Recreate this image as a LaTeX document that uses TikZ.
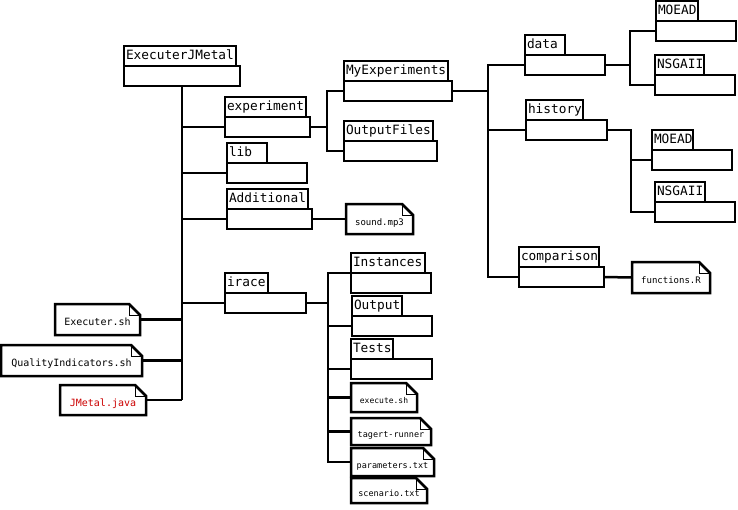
\documentclass[tikz,border=0pt]{standalone}
\usepackage{fontspec}
\setmonofont{DejaVu Sans Mono}
\usepackage{tikz}
\usetikzlibrary{calc}

% folder: tab with the name on top of an empty body
\newcommand{\dirbox}[6]{%
  \node[dirtab, text width=#5] (#1T) at (#2,#3) {#4};
  \node[dirbody, minimum width=#6] (#1) at (#1T.south west) {};
}
% file: sheet with a folded corner
\newcommand{\dogear}[1]{%
  \draw (#1.south west) -- (#1.north west) -- ([xshift=-11pt]#1.north east)
    -- ([yshift=-11pt]#1.north east) -- (#1.south east) -- cycle;
  \draw[line width=0.9pt] ([xshift=-11pt]#1.north east) -- ([xshift=-11pt,yshift=-11pt]#1.north east)
    -- ([yshift=-11pt]#1.north east);
}

\begin{document}
\begin{tikzpicture}[x=1pt, y=-1pt, line width=2.5pt,
  dirtab/.style={draw, anchor=north west, outer sep=0pt, inner sep=2pt, minimum height=20pt,
    text height=9.5pt, text depth=2.5pt, font=\ttfamily\fontsize{12.8}{14}\selectfont},
  dirbody/.style={draw, anchor=north west, outer sep=0pt, inner sep=0pt, minimum height=20pt},
  file/.style={anchor=north west, outer sep=0pt, inner sep=0pt, text height=12pt, text depth=0pt,
    font=\ttfamily\fontsize{9}{10}\selectfont},
  bigfile/.style={file, font=\ttfamily\fontsize{10}{11}\selectfont}]

\fill[white] (0,0) rectangle (738,509);
\useasboundingbox (0,0) rectangle (738,509);

% Folders
\dirbox{exec}{124}{46}{ExecuterJMetal}{108pt}{116pt}
\dirbox{expr}{225}{97}{experiment}{77pt}{85pt}
\dirbox{lib}{227}{143}{lib}{36pt}{80pt}
\dirbox{add}{227}{189}{Additional}{77pt}{85pt}
\dirbox{irace}{225}{273}{irace}{39pt}{81pt}

\dirbox{myexp}{344}{61}{MyExperiments}{100pt}{108pt}
\dirbox{outf}{344}{121}{OutputFiles}{85pt}{93pt}

\dirbox{data}{525}{35}{data}{36pt}{80pt}
\dirbox{hist}{526}{100}{history}{53pt}{81pt}
\dirbox{comp}{519}{247}{comparison}{76pt}{85pt}

\dirbox{moeadA}{656}{1}{MOEAD}{38pt}{80pt}
\dirbox{nsgaA}{655}{55}{NSGAII}{45pt}{80pt}
\dirbox{moeadB}{652}{130}{MOEAD}{37pt}{80pt}
\dirbox{nsgaB}{655}{182}{NSGAII}{46pt}{80pt}

\dirbox{inst}{351}{253}{Instances}{70pt}{80pt}
\dirbox{outp}{352}{296}{Output}{46pt}{80pt}
\dirbox{tests}{351}{339}{Tests}{38pt}{81pt}

% Files
\node[file, minimum width=67pt, minimum height=30pt] (sound) at (346,204) {sound.mp3\hspace{5pt}};
\node[file, minimum width=78pt, minimum height=31pt] (funcR) at (632,262) {functions.R\hspace{5pt}};
\node[bigfile, minimum width=85pt, minimum height=31pt] (execsh) at (55,304) {Executer.sh\hspace{5pt}};
\node[bigfile, minimum width=141pt, minimum height=31pt] (quality) at (1,345) {QualityIndicators.sh\hspace{5pt}};
\node[bigfile, minimum width=86pt, minimum height=30pt, text=red!80!black] (jmetal) at (60,385) {JMetal.java\hspace{5pt}};
\node[file, minimum width=66pt, minimum height=29pt, font=\ttfamily\fontsize{8}{9}\selectfont] (executesh) at (351,383) {execute.sh\hspace{5pt}};
\node[file, minimum width=80pt, minimum height=27pt, font=\ttfamily\fontsize{8.5}{9}\selectfont] (tagert) at (351,418) {tagert-runner\hspace{5pt}};
\node[file, minimum width=83pt, minimum height=28pt, font=\ttfamily\fontsize{8.5}{9}\selectfont] (params) at (351,448) {parameters.txt\hspace{3pt}};
\node[file, minimum width=76pt, minimum height=25pt, font=\ttfamily\fontsize{8.5}{9}\selectfont] (scen) at (351,478) {scenario.txt\hspace{5pt}};
\foreach \f in {sound,funcR,execsh,quality,jmetal,executesh,tagert,params,scen} {
  \dogear{\f}
}

% Junction columns
\coordinate (jB) at (327,0);
\coordinate (jC) at (488,0);
\coordinate (jD) at (630,0);
\coordinate (jE) at (631,0);
\coordinate (jF) at (328,0);

% ExecuterJMetal
\draw (exec.south) -- (exec.south |- jmetal.east);
\foreach \n in {expr,lib,add,irace} {
  \draw (exec.south |- \n.west) -- (\n.west);
}
\foreach \n in {execsh,quality,jmetal} {
  \draw (\n.east) -- (exec.south |- \n.east);
}

% experiment
\draw (expr.east) -- (expr.east -| jB);
\draw (myexp.west) -| (jB |- outf.west) -- (outf.west);

% MyExperiments
\draw (myexp.east) -- (myexp.east -| jC);
\draw (data.west) -| (jC |- comp.west) -- (comp.west);
\draw (jC |- hist.west) -- (hist.west);

% data
\draw (data.east) -- (data.east -| jD);
\draw (moeadA.west) -| (jD |- nsgaA.west) -- (nsgaA.west);

% history
\draw (hist.east) -| (jE |- nsgaB.west) -- (nsgaB.west);
\draw (jE |- moeadB.west) -- (moeadB.west);

% comparison, Additional
\draw (comp.east) -- (funcR.west);
\draw (add.east) -- (sound.west);

% irace
\draw (irace.east) -- (irace.east -| jF);
\draw (inst.north west) -| (jF |- params.west) -- (params.west);
\foreach \n in {outp,tests,executesh,tagert} {
  \draw (jF |- \n.west) -- (\n.west);
}

\end{tikzpicture}
\end{document}
